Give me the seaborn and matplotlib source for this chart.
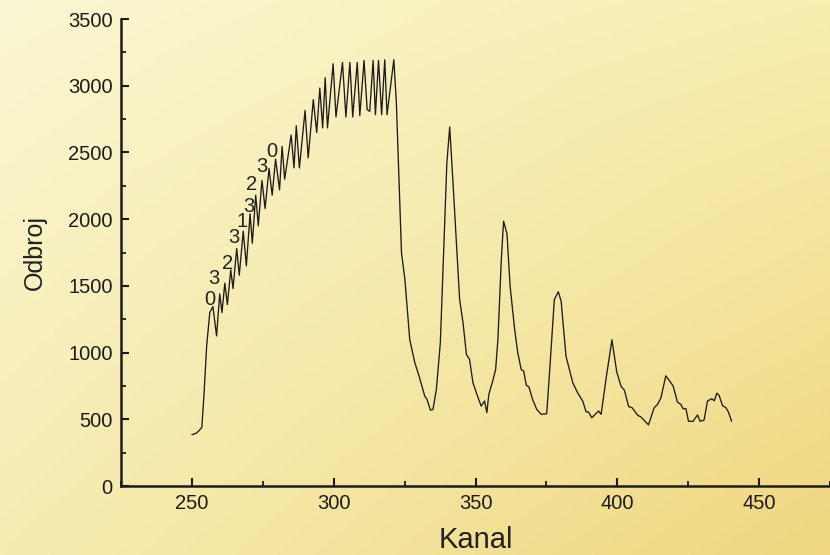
import numpy as np
import matplotlib
matplotlib.use('Agg')
import matplotlib.pyplot as plt
import seaborn as sns
from matplotlib.ticker import MultipleLocator

# channel / count vertices
kanal = [250.0, 251.5, 252.5, 253.5, 254.3, 255.2, 256.3, 257.4, 258.7, 259.8,
         260.6, 261.6, 262.5, 263.7, 264.5, 265.8, 266.7, 268.1, 269.2, 270.5,
         271.3, 272.5, 273.4, 274.7, 275.8, 277.2, 278.3, 279.5, 280.9, 281.8,
         282.7, 285.0, 286.0, 286.8, 287.9, 289.9, 291.0, 292.8, 294.0, 295.1,
         296.1, 297.0, 297.8, 299.8, 300.8, 303.1, 304.3, 305.7, 306.7, 308.3,
         309.2, 310.7, 311.8, 312.7, 313.9, 314.7, 315.8, 316.9, 318.0, 318.8,
         321.2, 322.1, 323.9, 325.1, 326.8, 328.6, 330.1, 332.1, 332.9, 334.1,
         335.0, 336.2, 337.6, 339.1, 339.9, 340.9, 342.0, 343.2, 344.4, 345.6,
         346.8, 347.9, 349.1, 350.8, 352.0, 353.2, 354.0, 354.7, 355.9, 357.1,
         357.9, 359.1, 359.9, 361.1, 362.2, 363.8, 364.9, 366.1, 367.0, 367.9,
         368.8, 370.2, 371.6, 373.2, 375.1, 376.1, 377.8, 379.2, 380.2, 381.9,
         384.3, 386.0, 387.8, 389.0, 389.8, 391.0, 393.4, 394.3, 396.0, 398.1,
         399.8, 401.3, 402.5, 404.0, 405.2, 407.2, 408.3, 411.0, 413.0, 414.2,
         415.4, 417.1, 418.9, 419.7, 421.2, 422.4, 423.2, 424.2, 425.1, 426.7,
         428.3, 429.2, 430.6, 431.8, 433.3, 434.2, 435.1, 435.9, 437.1, 438.3,
         439.2, 440.3]
odbroj = [385, 395, 415, 440, 700, 1050, 1300, 1345, 1125, 1440,
          1300, 1520, 1360, 1620, 1480, 1780, 1580, 1910, 1650, 2040,
          1820, 2180, 1950, 2290, 2080, 2380, 2180, 2450, 2220, 2546,
          2300, 2630, 2384, 2700, 2384, 2815, 2459, 2896, 2650, 2983,
          2684, 3060, 2684, 3165, 2766, 3175, 2766, 3175, 2766, 3175,
          2776, 3190, 2821, 2808, 3190, 2783, 3190, 2783, 3195, 2783,
          3195, 2871, 1748, 1548, 1099, 924, 824, 674, 649, 569,
          574, 724, 1074, 1947, 2422, 2691, 2297, 1847, 1398, 1224,
          986, 949, 774, 668, 599, 637, 550, 687, 774, 874,
          1099, 1698, 1985, 1890, 1498, 1174, 999, 874, 861, 755,
          744, 645, 574, 537, 542, 849, 1398, 1456, 1385, 974,
          774, 699, 637, 556, 556, 512, 562, 537, 799, 1096,
          855, 749, 718, 596, 587, 530, 518, 458, 587, 612,
          662, 826, 774, 749, 629, 612, 579, 579, 485, 485,
          533, 485, 494, 637, 654, 639, 696, 679, 602, 587,
          554, 485]

# peak assignment labels
peak_labels = ['0', '3', '2', '3', '1', '3', '2', '3', '0']
peak_label_x = [256.4, 257.6, 262.6, 264.9, 267.6, 270.2, 270.9, 274.7, 278.2]
peak_label_y = [1398, 1553, 1664, 1860, 1985, 2092, 2260, 2396, 2508]

sns.set_style('ticks')
plt.rcParams['font.family'] = ['Liberation Sans', 'DejaVu Sans']

fig = plt.figure(figsize=(8.3, 5.55), dpi=100)

# yellowish paper background
bg = fig.add_axes([0, 0, 1, 1], zorder=0)
tl = np.array([250, 246, 210]) / 255
tr = np.array([247, 238, 176]) / 255
bl = np.array([246, 236, 178]) / 255
br = np.array([240, 215, 128]) / 255
u = np.linspace(0, 1, 200)[None, :, None]
v = np.linspace(0, 1, 140)[:, None, None]
grad = (1 - v) * ((1 - u) * tl + u * tr) + v * ((1 - u) * bl + u * br)
bg.imshow(grad, aspect='auto', extent=[0, 1, 0, 1], origin='upper')
bg.axis('off')

ax = fig.add_axes([0.1458, 0.1243, 0.8542, 0.8414], zorder=1)
ax.patch.set_alpha(0)

sns.lineplot(x=kanal, y=odbroj, ax=ax, color='#1c1c1c', linewidth=0.95,
             sort=False, estimator=None)

for s, x, y in zip(peak_labels, peak_label_x, peak_label_y):
    ax.text(x, y, s, ha='center', va='center', fontsize=14.5, color='#222222')

ax.set_xlim(225, 475)
ax.set_ylim(0, 3500)
ax.xaxis.set_major_locator(MultipleLocator(50))
ax.xaxis.set_minor_locator(MultipleLocator(25))
ax.yaxis.set_major_locator(MultipleLocator(500))
ax.yaxis.set_minor_locator(MultipleLocator(250))

sns.despine(ax=ax)
for side in ['left', 'bottom']:
    ax.spines[side].set_linewidth(1.8)
    ax.spines[side].set_color('#1c1c1c')

ax.tick_params(which='major', direction='in', length=6, width=1.5,
               labelsize=14.5, colors='#1c1c1c', pad=6)
ax.tick_params(which='minor', direction='in', length=3.5, width=1.3,
               colors='#1c1c1c')

ax.set_xlabel('Kanal', fontsize=21, color='#222222', labelpad=9)
ax.set_ylabel('Odbroj', fontsize=18, color='#222222', labelpad=15,
              family=['Liberation Sans Narrow', 'Liberation Sans'])

fig.savefig('out.png', dpi=100)
plt.close(fig)
